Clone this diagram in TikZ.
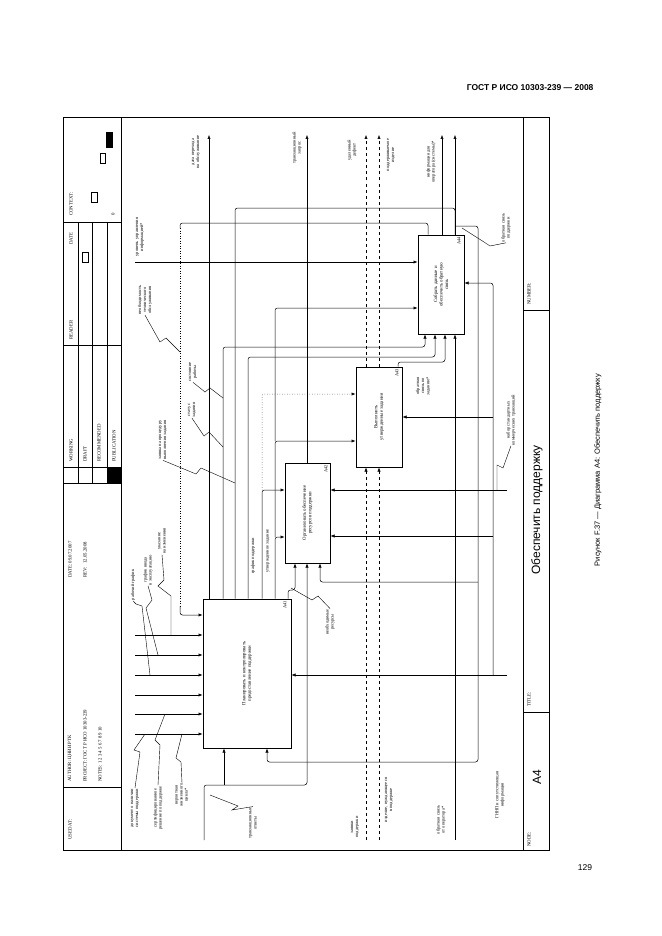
\documentclass[tikz,border=0pt]{standalone}
\usepackage{fontspec}
\setmainfont{Liberation Serif}
\newfontfamily\hsans{Liberation Sans}
\usetikzlibrary{arrows.meta}
\begin{document}
\begin{tikzpicture}[x=1pt,y=-1pt,
  box/.style={draw,line width=1pt,inner sep=0pt,font=\fontsize{4.8}{5.5}\selectfont},
  arr/.style={-{Latex[length=4pt,width=3.2pt]},line width=0.5pt},
  ln/.style={line width=0.5pt},
  rc/.style={rounded corners=2.5pt},
  lbl/.style={rotate=90,align=center,font=\fontsize{4.5}{5.1}\selectfont,inner sep=0.5pt},
  hdr/.style={rotate=90,anchor=west,font=\fontsize{4.8}{5.5}\selectfont,inner sep=0pt},
  sq/.style={line width=0.4pt}]
\useasboundingbox (0,0) rectangle (661,936);
% page texts
\node[font=\hsans\bfseries\fontsize{8.5}{10}\selectfont,anchor=east] (hd) at (597,88) {ГОСТ Р ИСО 10303-239 — 2008};
\node[font=\hsans\fontsize{8.5}{10}\selectfont] (pg) at (585,868) {129};
\node[font=\hsans\fontsize{7.5}{9}\selectfont,rotate=90] (cap) at (598,470) {Рисунок F.37 — Диаграмма A4: Обеспечить поддержку};
% frame
\draw[line width=0.8pt] (63,117) rectangle (549,850);
\draw[ln] (121,117) -- (121,850) (523,117) -- (523,850);
\foreach \y in {222,345,467,483,787} \draw[ln] (63,\y) -- (121,\y);
\foreach \x in {78,92,107} \draw[ln] (\x,222) -- (\x,483);
\fill (107,467) rectangle (121,483);
\draw[ln] (523,310) -- (549,310) (523,712) -- (549,712);
% header texts
\node[hdr] (usedat) at (70,840) {USED AT:};
\node[hdr] (auth) at (70,782) {AUTHOR: ЦНИИ РТК};
\node[hdr] (proj) at (85,782) {PROJECT: ГОСТ Р ИСО 10303-239};
\node[hdr] (notes) at (100,782) {NOTES: 1 2 3 4 5 6 7 8 9 10};
\node[hdr] (date) at (70,578) {DATE: 09.07.2007};
\node[hdr] (rev) at (85,578) {REV: \ \ 12.05.2008};
\node[hdr] (work) at (71,462) {WORKING};
\node[hdr] (draft) at (85,462) {DRAFT};
\node[hdr] (recom) at (99,462) {RECOMMENDED};
\node[hdr] (publ) at (114,462) {PUBLICATION};
\node[hdr] (reader) at (71,340) {READER};
\node[hdr] (dt2) at (71,245) {DATE};
\node[hdr] (ctx) at (71,216) {CONTEXT:};
\node[hdr] (zero) at (113,216) {0};
\draw[ln] (82,252) rectangle (88,262) (91,192) rectangle (97,202) (100,153) rectangle (105,163);
\fill (106,132) rectangle (113,148);
\node[hdr] (nodel) at (529,847) {NODE:};
\node[hdr] (titlel) at (529,707) {TITLE:};
\node[hdr] (numl) at (529,305) {NUMBER:};
\node[rotate=90,font=\hsans\fontsize{12}{14}\selectfont] (a4) at (537,777) {A4};
\node[rotate=90,font=\hsans\fontsize{12}{14}\selectfont] (ttl) at (537,510) {Обеспечить поддержку};
% boxes
\node[box,minimum width=88pt,minimum height=149pt] (A41) at (247,673.5) {\rotatebox{90}{\parbox{64pt}{\centering Планировать и контролировать предоставление поддержки}}};
\node[box,minimum width=45pt,minimum height=100pt] (A42) at (307.5,513) {\rotatebox{90}{\parbox{64pt}{\centering Организовать обеспечение ресурсов поддержки}}};
\node[box,minimum width=46pt,minimum height=100pt] (A43) at (379,417) {\rotatebox{90}{\parbox{50pt}{\centering Выполнить утвержденные задания}}};
\node[box,minimum width=46pt,minimum height=99pt] (A44) at (441,284.5) {\rotatebox{90}{\parbox{50pt}{\centering Собрать данные и обеспечить обратную связь}}};
\node[lbl] (n1) at (285,605) {A41};
\node[lbl] (n2) at (326,469) {A42};
\node[lbl] (n3) at (397,373) {A43};
\node[lbl] (n4) at (459,241) {A44};
% A41 outputs
\draw[arr] (209,0 |- A41.north) -- (209,135);
\draw[arr,rc] (223,0 |- A41.north) |- (425,347) -- (425,0 |- A44.south);
\draw[ln,rc] (455,0 |- A44.north) |- (235,208) -- (235,0 |- A41.north);
\draw[arr,rc] (248,0 |- A41.north) |- (435,357) -- (435,0 |- A44.south);
\draw[arr,rc] (262,0 |- A41.north) |- (A42.west |- 0,490);
\draw[arr,rc,dotted] (262,490) |- (A43.west |- 0,394);
\draw[arr,rc] (275,0 |- A41.north) |- (A42.west |- 0,537);
\draw[arr,rc] (275,537) |- (A43.west |- 0,441);
\draw[arr,rc] (275,441) |- (A44.west |- 0,308);
\draw[arr,rc] (288,0 |- A41.north) -- (288,590) -| (295,0 |- A42.south);
% controls
\draw[arr] (135,262) -- (A44.west |- 0,262);
\draw[ln,rc] (428,0 |- A44.north) |- (180,223) -- (180,228);
\draw[ln,dotted] (180,228) -- (180,608);
\draw[arr,rc] (180,606) |- (A41.west |- 0,615);
\foreach \y in {635,655,675,695,714,734} \draw[arr] (135,\y) -- (A41.west |- 0,\y);
% outputs to top
\draw[arr] (307,0 |- A42.north) -- (307,135);
\draw[arr,dashed] (366,0 |- A43.north) -- (366,135);
\draw[arr,dashed] (379,0 |- A43.north) -- (379,135);
\draw[arr] (442,0 |- A44.north) -- (442,135);
\draw[arr] (455,0 |- A44.north) -- (455,135);
\draw[arr,rc] (398,0 |- A43.north) -- (398,362) -| (445,0 |- A44.south);
% inputs
\draw[arr,dashed] (366,840) -- (366,0 |- A43.south);
\draw[arr,dashed] (379,840) -- (379,0 |- A43.south);
\draw[arr] (455,840) -- (455,0 |- A44.south);
\draw[arr,rc] (204,840) |- (307,785) -- (307,0 |- A42.south);
\draw[arr] (224,785) -- (224,0 |- A41.south);
\draw[arr,rc] (455,226) -| (478,762) -| (267,0 |- A41.south);
\draw[arr,rc] (478,582) -| (320,0 |- A42.south);
% mechanisms
\draw[arr] (507,675) -- (A41.east |- 0,675);
\draw[arr,rc] (493,675) |- (A44.east |- 0,283);
\draw[arr] (493,536) -- (A42.east |- 0,536);
\draw[arr] (507,490) -- (A42.east |- 0,490);
\draw[arr] (493,417) -- (A43.east |- 0,417);
% labels
\node[lbl] (l1) at (196,152) {дата перехода\\на обслуживание};
\node[lbl] (l2) at (297,148) {транзакционный\\запрос};
\node[lbl] (l3) at (352,150) {удаленный\\дефект};
\node[lbl] (l4) at (391,155) {поддерживаемое\\изделие};
\node[lbl] (l5) at (431,162) {информация для\\оператора (системы)*};
\node[lbl] (l6) at (140,237) {уровень управления\\информацией*};
\node[lbl] (l7) at (145,300) {необходимость\\технического\\обслуживания};
\node[lbl] (l8) at (193,372) {состояние\\работы};
\node[lbl] (l9) at (192,410) {статус\\задания};
\node[lbl] (l10) at (163,440) {заявка на процедуру\\выполнения задания};
\node[lbl] (l11) at (162,541) {указание\\на изменения};
\node[lbl] (l12) at (148,570) {график ввода\\в эксплуатацию};
\node[lbl] (l13) at (133,585) {рабочий график};
\node[lbl] (l14) at (253,556) {график поддержки};
\node[lbl] (l15) at (268,551) {утвержденное задание};
\node[lbl] (l16) at (330,622) {необходимые\\ресурсы};
\node[lbl] (l17) at (423,386) {обратная\\связь по\\заданию*};
\node[lbl] (l18) at (506,228) {обратная связь\\поддержки};
\node[lbl] (l19) at (511,420) {набор стандартных\\коммерческих транзакций};
\node[lbl] (l20) at (500,795) {ГННП и сопутствующая\\информация};
\node[lbl] (l21) at (135,808) {документ о наличии\\системы поддержки};
\node[lbl] (l22) at (158,808) {сертифицированное\\решение по поддержке};
\node[lbl] (l23) at (182,795) {вероятная\\жизненного\\цикла*};
\node[lbl] (l24) at (253,823) {транзакционные\\ответы};
\node[lbl] (l25) at (355,827) {заявки\\поддержки};
\node[lbl] (l26) at (389,800) {изделие, нуждающееся\\в поддержке};
\node[lbl] (l27) at (441,820) {обратная связь\\от оператора*};
% squiggles
\draw[sq] (l7.west) -- (160,342) -- (166,338) -- (180,352);
\draw[sq] (l8.west) -- (205,392) -- (210,388) -- (223,398);
\draw[sq] (l9.west) -- (204,436) -- (209,432) -- (223,447);
\draw[sq] (l10.west) -- (196,474) -- (201,468) -- (235,483);
\draw[sq] (l11.west) -- (164,580) -- (158,586) -- (171,596) -- (171,635);
\draw[sq] (l12.west) -- (152,600) -- (146,608) -- (158,655);
\draw[sq] (l13.west) -- (136,604) -- (142,606) -- (150,675);
\draw[sq] (l21.east) -- (140,752) -- (134,750) -- (145,734);
\draw[sq] (l22.east) -- (160,745) -- (155,740) -- (165,714);
\draw[sq] (l23.east) -- (181,762) -- (176,758) -- (182,734);
\draw[sq] (l24.east) -- (232,810) -- (238,806) -- (210,795);
\draw[sq] (l16.east) -- (318,596) -- (312,600) -- (291,588);
\draw[sq] (l18.west) -- (490,246) -- (484,242) -- (462,228);
\draw[sq] (l19.west) -- (503,468) -- (497,465) -- (497,490);
\end{tikzpicture}
\end{document}
